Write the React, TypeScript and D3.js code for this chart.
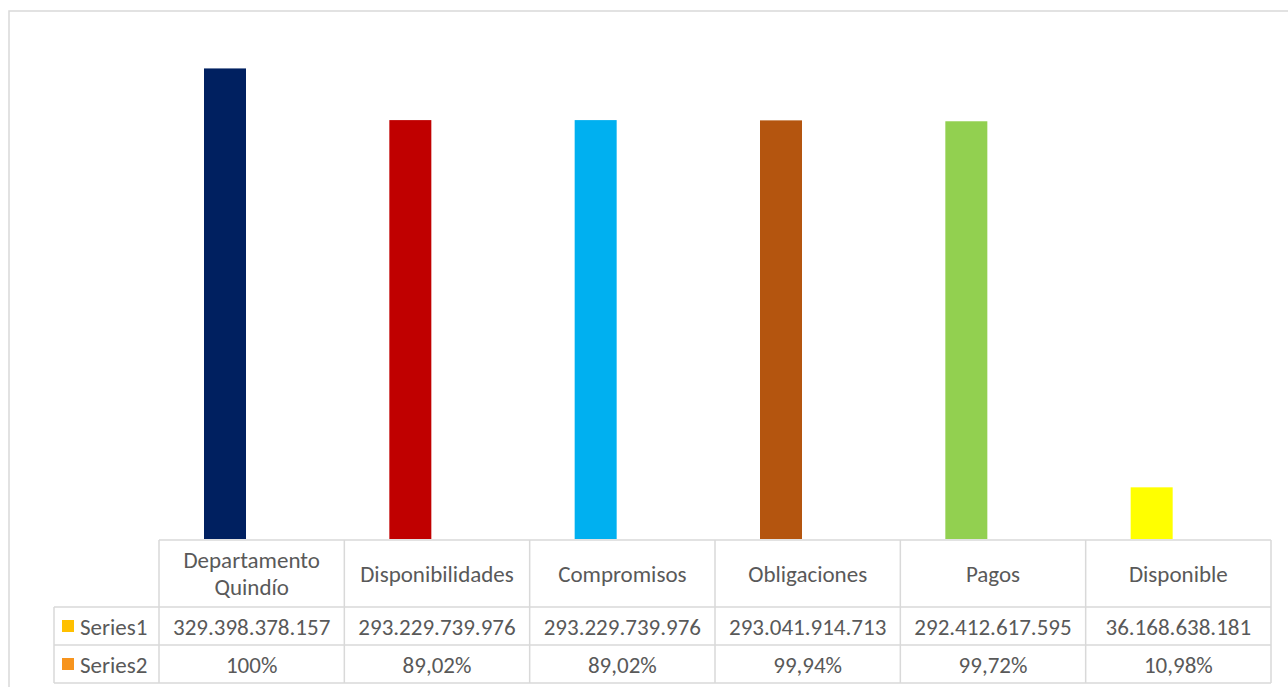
import React from "react";
import * as d3 from "d3";

const categories = ["Departamento Quindío", "Disponibilidades", "Compromisos", "Obligaciones", "Pagos", "Disponible"];
const categoryLines = [["Departamento", "Quindío"], ["Disponibilidades"], ["Compromisos"], ["Obligaciones"], ["Pagos"], ["Disponible"]];
const series1Values = [329398378157, 293229739976, 293229739976, 293041914713, 292412617595, 36168638181];
const series1Labels = ["329.398.378.157", "293.229.739.976", "293.229.739.976", "293.041.914.713", "292.412.617.595", "36.168.638.181"];
const series2Values = [1, 0.8902, 0.8902, 0.9994, 0.9972, 0.1098];
const series2Labels = ["100%", "89,02%", "89,02%", "99,94%", "99,72%", "10,98%"];
const seriesNames = ["Series1", "Series2"];
const seriesColors = ["#FFC000", "#F7941D"];
const barColors = ["#002060", "#C00000", "#00B0F0", "#B4550F", "#92D050", "#FFFF00"];
const yMax = 350000000000;

const W = 1288;
const H = 687;
const tableLeft = 159;
const tableRight = 1271;
const labelLeft = 54;
const headerTop = 540;
const row1Top = 607;
const row2Top = 645;
const tableBottom = 683;
const plotTop = 39;
const gridColor = "#D9D9D9";
const textColor = "#595959";
const font = "Carlito, Calibri, Lato, sans-serif";
const fs = 23;

export default function App() {
  const x = d3.scaleBand<string>().domain(categories).range([tableLeft, tableRight]).padding(0);
  const bw = x.bandwidth();
  const inner = d3.scaleBand<string>().domain(seriesNames).range([45, 129]).padding(0);
  const y = d3.scaleLinear().domain([0, yMax]).range([headerTop - 1, plotTop]);

  const colEdges = categories.map((c) => x(c) as number).concat([tableRight]);

  return (
    <svg width={W} height={H} style={{ position: "absolute", left: 0, top: 0, display: "block", background: "#fff" }}>
      <rect x={9} y={11} width={W + 20} height={H + 20} fill="#fff" stroke={gridColor} strokeWidth={1.5} />
      {categories.map((c, i) => (
        <rect
          key={"s1" + c}
          x={(x(c) as number) + (inner("Series1") as number)}
          y={y(series1Values[i])}
          width={inner.bandwidth()}
          height={y(0) - y(series1Values[i])}
          fill={barColors[i]}
        />
      ))}
      {categories.map((c, i) => (
        <rect
          key={"s2" + c}
          x={(x(c) as number) + (inner("Series2") as number)}
          y={y(series2Values[i])}
          width={inner.bandwidth()}
          height={Math.max(0, y(0) - y(series2Values[i]))}
          fill={seriesColors[1]}
        />
      ))}
      <g stroke={gridColor} strokeWidth={1.5}>
        <line x1={tableLeft} x2={tableRight} y1={headerTop} y2={headerTop} />
        <line x1={labelLeft} x2={tableRight} y1={row1Top} y2={row1Top} />
        <line x1={labelLeft} x2={tableRight} y1={row2Top} y2={row2Top} />
        <line x1={labelLeft} x2={tableRight} y1={tableBottom} y2={tableBottom} />
        <line x1={labelLeft} x2={labelLeft} y1={row1Top} y2={tableBottom} />
        {colEdges.map((e, i) => (
          <line key={"v" + i} x1={e} x2={e} y1={headerTop} y2={tableBottom} />
        ))}
      </g>
      <g fontFamily={font} fontSize={fs} fill={textColor} textAnchor="middle">
        {categories.map((c, i) => {
          const cx = (x(c) as number) + bw / 2;
          const lines = categoryLines[i];
          const mid = (headerTop + row1Top) / 2;
          const lh = 27;
          return (
            <text key={"h" + c} x={cx} y={mid - ((lines.length - 1) * lh) / 2} dominantBaseline="central">
              {lines.map((l, j) => (
                <tspan key={j} x={cx} dy={j === 0 ? 0 : lh}>
                  {l}
                </tspan>
              ))}
            </text>
          );
        })}
        {categories.map((c, i) => (
          <text key={"r1" + c} x={(x(c) as number) + bw / 2} y={(row1Top + row2Top) / 2 + 1} dominantBaseline="central">
            {series1Labels[i]}
          </text>
        ))}
        {categories.map((c, i) => (
          <text key={"r2" + c} x={(x(c) as number) + bw / 2} y={(row2Top + tableBottom) / 2 + 1} dominantBaseline="central">
            {series2Labels[i]}
          </text>
        ))}
      </g>
      {seriesNames.map((s, i) => {
        const top = i === 0 ? row1Top : row2Top;
        const cy = (top + (i === 0 ? row2Top : tableBottom)) / 2;
        return (
          <g key={s}>
            <rect x={62} y={cy - 6} width={12} height={12} fill={seriesColors[i]} />
            <text x={80} y={cy + 1} fontFamily={font} fontSize={fs} fill={textColor} dominantBaseline="central">
              {s}
            </text>
          </g>
        );
      })}
    </svg>
  );
}
